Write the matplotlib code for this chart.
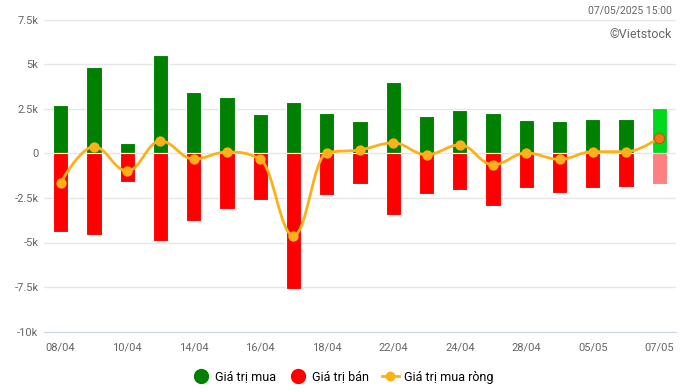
import matplotlib
matplotlib.use('Agg')
import matplotlib.pyplot as plt
from matplotlib.path import Path
from matplotlib.patches import PathPatch
from matplotlib.lines import Line2D

plt.rcParams['font.family'] = ['Roboto', 'DejaVu Sans']

dates = ["08/04", "09/04", "10/04", "11/04", "14/04", "15/04", "16/04", "17/04", "18/04", "21/04",
         "22/04", "23/04", "24/04", "25/04", "28/04", "29/04", "05/05", "06/05", "07/05"]
buy = [2710, 4840, 580, 5510, 3440, 3160, 2220, 2880, 2260, 1810,
       4000, 2090, 2430, 2260, 1870, 1810, 1920, 1920, 2540]
sell = [-4390, -4560, -1590, -4920, -3780, -3120, -2620, -7610, -2340, -1720,
        -3440, -2280, -2060, -2940, -1930, -2230, -1930, -1870, -1720]
net = [-1650, 370, -990, 690, -320, 70, -340, -4620, 20, 190,
       580, -80, 470, -640, 20, -340, 90, 90, 870]
yticks = [-10000, -7500, -5000, -2500, 0, 2500, 5000, 7500]
ylabels = ["-10k", "-7.5k", "-5k", "-2.5k", "0", "2.5k", "5k", "7.5k"]

GREEN = "#008000"
RED = "#ff0000"
LINE = "#fbb117"


def spline_path(xs, ys, smoothing=1.5):
    # Highcharts-like spline: cubic bezier segments between the data points
    n = len(xs)
    left = [None] * n
    right = [None] * n
    for i in range(n):
        x, y = xs[i], ys[i]
        if i == 0 or i == n - 1:
            left[i] = (x, y)
            right[i] = (x, y)
            continue
        lx, ly = xs[i - 1], ys[i - 1]
        nx, ny = xs[i + 1], ys[i + 1]
        d = smoothing + 1
        lcx = (smoothing * x + lx) / d
        lcy = (smoothing * y + ly) / d
        rcx = (smoothing * x + nx) / d
        rcy = (smoothing * y + ny) / d
        if rcx != lcx:
            corr = (rcy - lcy) * (rcx - x) / (rcx - lcx) + y - rcy
            lcy += corr
            rcy += corr
        if lcy > ly and lcy > y:
            lcy = max(ly, y)
            rcy = 2 * y - lcy
        elif lcy < ly and lcy < y:
            lcy = min(ly, y)
            rcy = 2 * y - lcy
        if rcy > ny and rcy > y:
            rcy = max(ny, y)
            lcy = 2 * y - rcy
        elif rcy < ny and rcy < y:
            rcy = min(ny, y)
            lcy = 2 * y - rcy
        left[i] = (lcx, lcy)
        right[i] = (rcx, rcy)
    verts = [(xs[0], ys[0])]
    codes = [Path.MOVETO]
    for i in range(1, n):
        verts += [right[i - 1], left[i], (xs[i], ys[i])]
        codes += [Path.CURVE4] * 3
    return Path(verts, codes)


fig = plt.figure(figsize=(6.8, 3.92), dpi=100, facecolor="white")
ax = fig.add_axes([44 / 680, 1 - 331.7 / 392, 632 / 680, (331.7 - 19.5) / 392])

x = list(range(len(dates)))
buy_colors = [GREEN] * (len(x) - 1) + ["#00d81e"]
sell_colors = [RED] * (len(x) - 1) + ["#ff8080"]
ax.bar(x, buy, width=0.46, color=buy_colors, edgecolor="white", linewidth=0.8, zorder=2)
ax.bar(x, sell, width=0.46, color=sell_colors, edgecolor="white", linewidth=0.8, zorder=2)

ax.add_patch(PathPatch(spline_path(x, net), facecolor="none", edgecolor=LINE, lw=2, zorder=3))
ax.scatter(x[:-1], net[:-1], s=55, color=LINE, zorder=4, linewidths=0)
ax.scatter(x[-1:], net[-1:], s=55, color="#f07818", edgecolor="#b85a10", linewidths=0.8, zorder=4)

ax.set_xlim(-0.5, len(x) - 0.5)
ax.set_ylim(-10000, 7500)
ax.set_yticks(yticks)
ax.set_yticklabels(ylabels)
ax.set_xticks(x[::2])
ax.set_xticklabels(dates[::2])
ax.grid(axis='y', color="#e6e6e6", lw=1, zorder=0)
ax.set_axisbelow(True)
for s in ["top", "right", "left"]:
    ax.spines[s].set_visible(False)
ax.spines["bottom"].set_color("#ccd6eb")
ax.tick_params(axis='both', length=0, labelsize=8, labelcolor="#666666")
ax.tick_params(axis='x', pad=8)
ax.tick_params(axis='y', pad=4)

fig.text(672 / 680, 1 - 11 / 392, "07/05/2025 15:00", ha='right', va='center', fontsize=7.5, color="#666666")
fig.text(672 / 680, 1 - 35 / 392, "©Vietstock", ha='right', va='center', fontsize=9, color="#666666")

handles = [
    Line2D([], [], marker='o', ls='none', color=GREEN, markersize=10),
    Line2D([], [], marker='o', ls='none', color=RED, markersize=10),
    Line2D([], [], marker='o', color=LINE, lw=2, markersize=6),
]
fig.legend(handles, ["Giá trị mua", "Giá trị bán", "Giá trị mua ròng"], loc='center',
           bbox_to_anchor=(0.505, 1 - 377 / 392), ncol=3, frameon=False, fontsize=9,
           handlelength=1.3, handletextpad=0.45, columnspacing=1.1)

fig.savefig("out.png", dpi=100, facecolor="white")
